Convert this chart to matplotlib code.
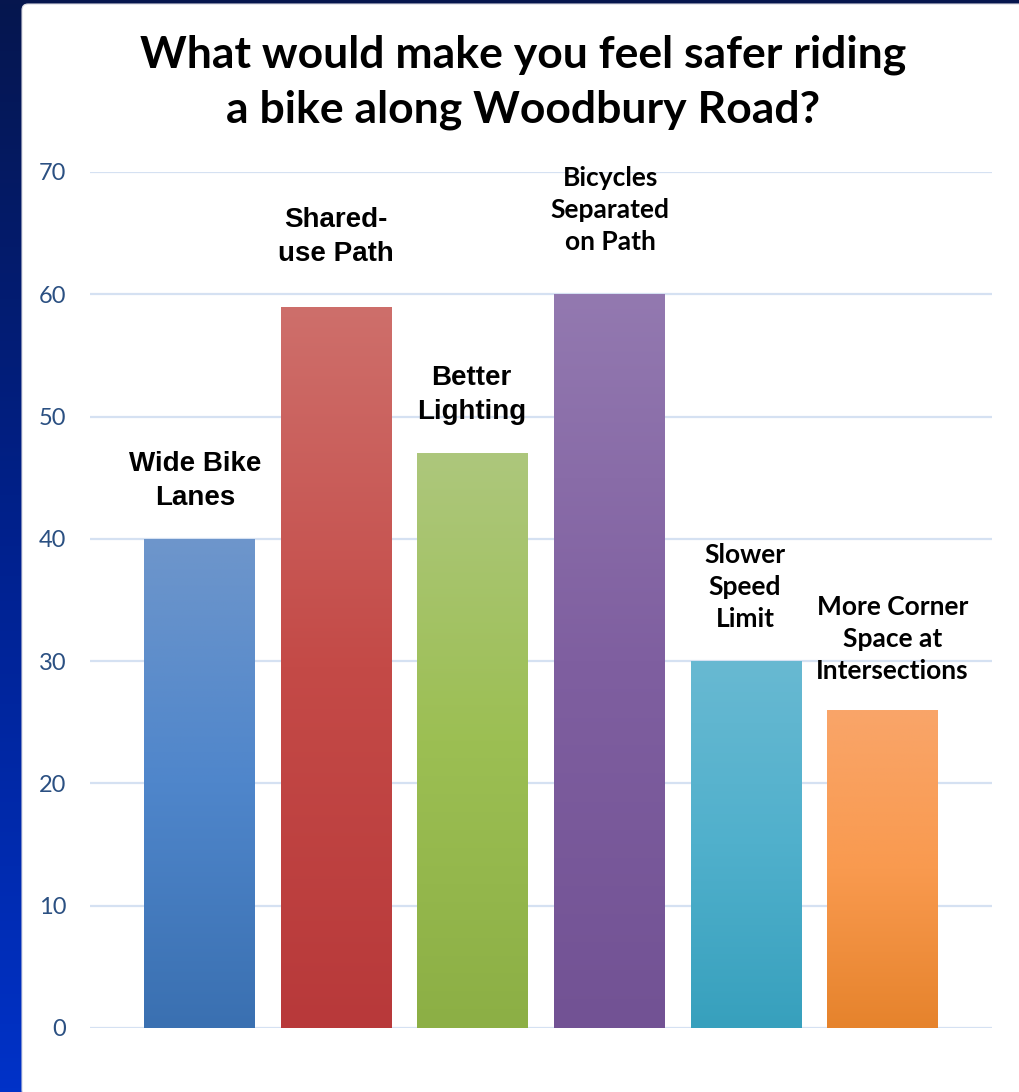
import numpy as np
import matplotlib.pyplot as plt
from matplotlib.patches import FancyBboxPatch
from matplotlib.colors import LinearSegmentedColormap

# data
categories = ["Wide Bike\nLanes", "Shared-\nuse Path", "Better\nLighting",
              "Bicycles\nSeparated\non Path", "Slower\nSpeed\nLimit",
              "More Corner\nSpace at\nIntersections"]
values = [40, 59, 47, 60, 30, 26]
yticks = [0, 10, 20, 30, 40, 50, 60, 70]

# bar gradients: top, middle, bottom
bar_colors = [
    ("#6E96CB", "#4F86CB", "#3A70B1"),
    ("#CE6F6B", "#C44A47", "#B8393A"),
    ("#ADC77C", "#9CBF53", "#8CAF45"),
    ("#9379B0", "#7F5FA0", "#725294"),
    ("#68B9D2", "#50B0CC", "#37A0BD"),
    ("#F9A569", "#F99A4F", "#E6832C"),
]
label_fonts = ["Liberation Sans", "Liberation Sans", "Liberation Sans",
               "Lato", "Lato", "Lato"]
label_pad = [28, 40, 28, 40, 30, 27]   # pixels above bar
label_dx = [-4, 0, -1, 1, -1, 10]

W, H = 1020, 1092
fig = plt.figure(figsize=(W / 100, H / 100), dpi=100)

# background: blue gradient with white panel
bg = fig.add_axes([0, 0, 1, 1], zorder=-10)
bg.set_xlim(0, W)
bg.set_ylim(H, 0)
bg.axis("off")
grad = LinearSegmentedColormap.from_list("bg", ["#06164E", "#00218E", "#0032C8"])
bg.imshow(np.linspace(0, 1, 256).reshape(-1, 1), cmap=grad, aspect="auto",
          extent=[0, W, H, 0])
bg.add_patch(FancyBboxPatch((22, 4), W, H, boxstyle="round,pad=0,rounding_size=6",
                            fc="white", ec="#D8D8E0", lw=0.8))

ax = fig.add_axes([90 / W, 1 - 1028 / H, 902 / W, (1028 - 172) / H])
ax.set_facecolor("none")
x = np.arange(len(values))
bars = ax.bar(x, values, width=0.81, color="none", zorder=3)
ax.set_xlim(-0.8, 5.8)
ax.set_ylim(0, 70)

# vertical gradient fill clipped to each bar
for b, cols in zip(bars, bar_colors):
    cmap = LinearSegmentedColormap.from_list("g", [cols[0], cols[1], cols[2]])
    im = ax.imshow(np.linspace(0, 1, 256).reshape(-1, 1), cmap=cmap, aspect="auto",
                   extent=[b.get_x(), b.get_x() + b.get_width(), 0, b.get_height()],
                   origin="upper", zorder=3)
    im.set_clip_path(b)

ax.set_yticks(yticks)
ax.grid(axis="y", color="#D5E1F2", lw=1.6, zorder=0)
ax.set_axisbelow(True)
for s in ax.spines.values():
    s.set_visible(False)
ax.tick_params(axis="y", length=0, pad=17, labelcolor="#2B5082", labelsize=17)
ax.set_xticks([])
for lab in ax.get_yticklabels():
    lab.set_family("Lato")

for i, (cat, v) in enumerate(zip(categories, values)):
    ax.annotate(cat, (i, v), xytext=(label_dx[i] * 0.72, label_pad[i] * 0.72),
                textcoords="offset points", ha="center", va="bottom",
                fontsize=19 if label_fonts[i] == "Lato" else 20,
                fontweight="bold", family=label_fonts[i], linespacing=1.4,
                annotation_clip=False, zorder=5)

fig.text(523 / W, 1 - 82 / H, "What would make you feel safer riding\na bike along Woodbury Road?",
         ha="center", va="center", fontsize=32, fontweight="bold", family="Lato",
         linespacing=1.45)

fig.savefig("out.png", dpi=100)
